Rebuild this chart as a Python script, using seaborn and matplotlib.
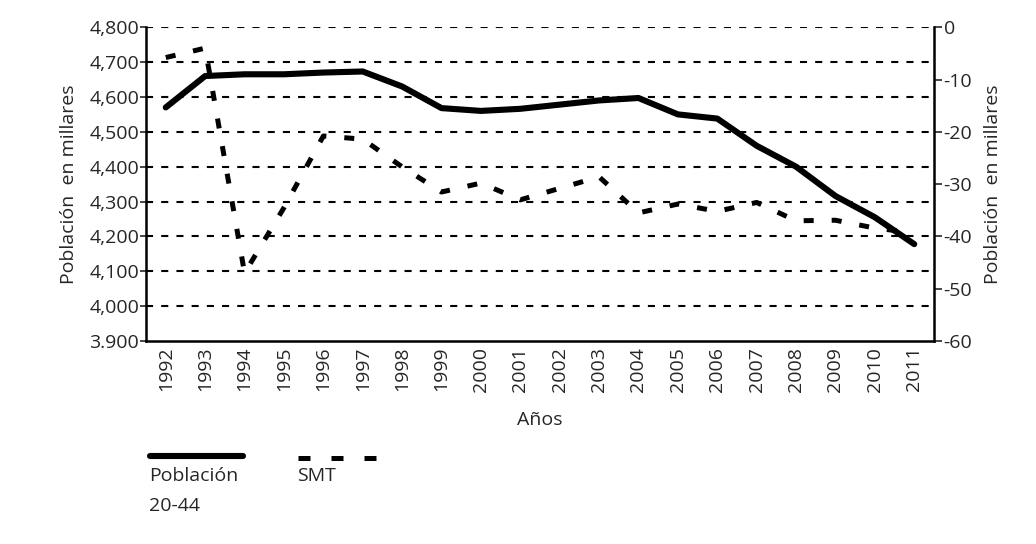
import numpy as np
import pandas as pd
import matplotlib

matplotlib.use("Agg")
import matplotlib.pyplot as plt
from matplotlib.lines import Line2D
from matplotlib.ticker import FixedLocator, FuncFormatter
import seaborn as sns

# Data
years = list(range(1992, 2012))
poblacion = [4570, 4660, 4665, 4665, 4670, 4673, 4630, 4568, 4560, 4566,
             4578, 4590, 4597, 4550, 4538, 4460, 4400, 4316, 4255, 4178]
smt = [-5.8, -4.0, -47.0, -34.5, -20.8, -21.4, -26.7, -31.5, -29.8, -33.0,
       -30.8, -28.6, -35.5, -33.8, -35.2, -33.5, -37.0, -36.9, -38.4, -39.3]
left_ticks = [3900, 4000, 4100, 4200, 4300, 4400, 4500, 4600, 4700, 4800]
left_labels = ["3.900", "4,000", "4,100", "4,200", "4,300", "4,400",
               "4,500", "4,600", "4,700", "4,800"]
right_ticks = [0, -10, -20, -30, -40, -50, -60]

df = pd.DataFrame({"year": years, "poblacion": poblacion, "smt": smt})

FS = 14

sns.set_style("white")
plt.rcParams["font.family"] = ["Open Sans", "DejaVu Sans"]
plt.rcParams["axes.linewidth"] = 1.6

fig = plt.figure(figsize=(10.36, 5.44), dpi=100)
ax = fig.add_axes([0.141, 0.373, 0.7605, 0.577])
ax2 = ax.twinx()

# dashed horizontal gridlines on the left scale
for v in left_ticks[1:]:
    ax.axhline(v, color="black", lw=1.5, ls=(0, (3.4, 3.9)), zorder=1)

sns.lineplot(data=df, x="year", y="poblacion", ax=ax, color="black",
             lw=4.4, solid_capstyle="round", zorder=3)
sns.lineplot(data=df, x="year", y="smt", ax=ax2, color="black",
             lw=3.6, ls=(0, (2.0, 3.6)), zorder=3)

ax.set_xlim(1991.5, 2011.5)
ax.set_ylim(3900, 4800)
ax2.set_ylim(-60, 0)

ax.set_yticks(left_ticks)
ax.set_yticklabels(left_labels)
ax2.set_yticks(right_ticks)
ax2.yaxis.set_major_formatter(FuncFormatter(lambda v, p: f"{int(v)}"))

ax.set_xticks(years)
ax.set_xticklabels([str(y) for y in years], rotation=90)
ax.xaxis.set_minor_locator(FixedLocator([y + 0.5 for y in years[:-1]]))
ax.tick_params(axis="x", which="major", length=0, labelsize=FS, pad=4)
ax.tick_params(axis="x", which="minor", length=7, width=1.2, direction="inout")
ax.tick_params(axis="y", length=4, width=1.2, labelsize=FS, pad=1)
ax2.tick_params(axis="y", length=6, width=1.2, labelsize=FS, pad=1)

for a in (ax, ax2):
    a.spines["top"].set_visible(False)
    for s in ("left", "right", "bottom"):
        a.spines[s].set_color("black")
        a.spines[s].set_linewidth(1.8)
ax.spines["right"].set_visible(False)
ax2.spines["left"].set_visible(False)
ax2.spines["bottom"].set_visible(False)

ax.set_xlabel("Años", fontsize=FS, labelpad=14)
ax.set_ylabel("Población  en millares", fontsize=FS, labelpad=8)
ax2.set_ylabel("Población  en millares", fontsize=FS, labelpad=8)
ax.grid(False)
ax2.grid(False)

# legend drawn below the axes: line first, label underneath
fig.add_artist(Line2D([150 / 1036, 243 / 1036], [1 - 456 / 544] * 2,
                      color="black", lw=4.4, solid_capstyle="round"))
fig.add_artist(Line2D([298 / 1036, 377 / 1036], [1 - 458 / 544] * 2,
                      color="black", lw=3.6, ls=(0, (2.4, 4.2))))
fig.text(149 / 1036, 1 - 467 / 544, "Población\n20-44", fontsize=FS,
         va="top", ha="left", linespacing=1.85)
fig.text(297 / 1036, 1 - 467 / 544, "SMT", fontsize=FS, va="top", ha="left")

fig.savefig("out.png", dpi=100)
